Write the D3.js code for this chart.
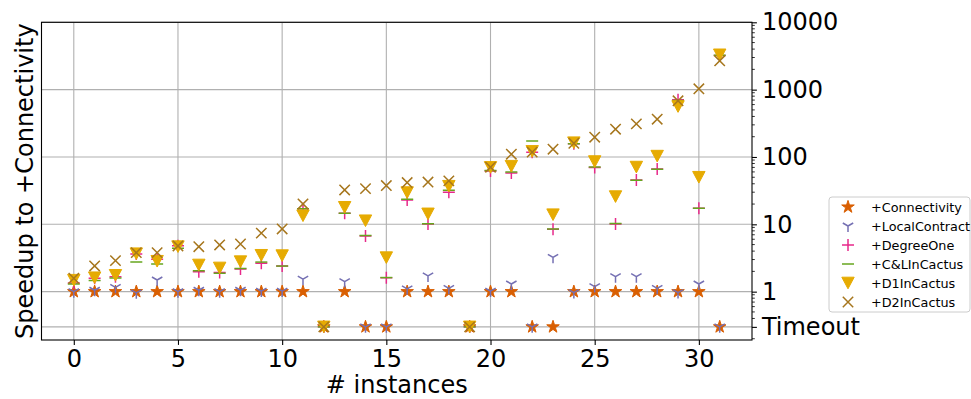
<!DOCTYPE html>
<html>
<head>
<meta charset="utf-8">
<script src="https://cdn.jsdelivr.net/npm/d3@7/dist/d3.min.js"></script>
<style>
  body { margin: 0; background: #fff; }
  svg { display: block; }
  text { font-family: "DejaVu Sans", sans-serif; fill: #000; }
</style>
</head>
<body>
<svg id="chart" width="971" height="399"></svg>
<script>
// Value used to place runs that timed out
const T = 0.3;

const connectivity   = [1,1,1,1,1,1,1,1,1,1,1,1,T,1,T,T,1,1,1,T,1,1,T,T,1,1,1,1,1,1,1,T];
const localContract  = [1.0,1.05,1.16,0.96,1.49,1.0,1.05,1.0,1.05,1.02,1.02,1.53,T,1.41,T,T,1.1,1.71,1.12,T,1.02,1.3,T,3.24,0.97,1.19,1.67,1.67,1.12,0.97,1.3,T];
const degreeOne      = [1.35,1.58,1.67,3.63,3.03,4.8,1.98,1.92,2.17,2.64,2.41,17,T,14.6,6.7,1.61,23,10.1,30,T,62,58,118,8.45,157,70,10.1,45.7,66.5,705,17.3,3200];
const cLInCactus     = [1.3,1.46,1.6,2.76,2.58,4.4,2.05,1.88,2.2,2.75,2.4,17,T,14.6,6.8,1.62,23.5,10.2,32,T,63,60,173,8.5,157,71,10.3,45,66,690,17.3,3250];
const d1InCactus     = [1.48,1.61,1.75,3.66,2.83,4.66,2.49,2.25,2.79,3.47,3.43,13.4,T,17.9,11.3,3.2,29.6,14.3,36.8,T,70,73,121,13.9,163,85.5,25.8,70.8,103,561,50,3290];
const d2InCactus     = [1.58,2.41,2.89,3.8,3.8,4.78,4.66,4.94,5.1,7.4,8.55,20.1,T,32.4,33.9,37.6,41.7,42.4,44.2,T,70.5,110,118,130.6,160,197,259,310,364,682,1028,2680];

const seriesNames  = ["+Connectivity","+LocalContract","+DegreeOne","+C&LInCactus","+D1InCactus","+D2InCactus"];
const seriesValues = [connectivity, localContract, degreeOne, cLInCactus, d1InCactus, d2InCactus];
const seriesColors = ["#d95f02","#7570b3","#e7298a","#66a61e","#e6ab02","#a6761d"];
const seriesMarkers = ["star","tri_down","plus","hline","triangle_down","x"];

const xTickValues = [0,5,10,15,20,25,30];
const yTickValues = [T,1,10,100,1000,10000];
const yTickLabels = ["Timeout","1","10","100","1000","10000"];

const svg = d3.select("#chart");
const plot = { left: 41.5, right: 752, top: 22.3, bottom: 340 };

const x = d3.scaleLinear().domain([-1.55, 32.55]).range([plot.left, plot.right]);
const y = d3.scaleLog().domain([0.1915, 10000]).range([plot.bottom, plot.top]);

// Marker path generators (centred on 0,0)
function markerPath(kind) {
  const p = d3.path();
  if (kind === "star") {
    const R = 6.6, r = R * 0.382;
    for (let k = 0; k < 10; k++) {
      const a = -Math.PI / 2 + k * Math.PI / 5;
      const rad = k % 2 === 0 ? R : r;
      const px = Math.cos(a) * rad, py = Math.sin(a) * rad;
      if (k === 0) p.moveTo(px, py); else p.lineTo(px, py);
    }
    p.closePath();
  } else if (kind === "tri_down") {
    const R = 6;
    p.moveTo(0, 0); p.lineTo(0, R);
    p.moveTo(0, 0); p.lineTo(-0.866 * R, -0.5 * R);
    p.moveTo(0, 0); p.lineTo(0.866 * R, -0.5 * R);
  } else if (kind === "plus") {
    const R = 6;
    p.moveTo(-R, 0); p.lineTo(R, 0);
    p.moveTo(0, -R); p.lineTo(0, R);
  } else if (kind === "hline") {
    const R = 6;
    p.moveTo(-R, 0); p.lineTo(R, 0);
  } else if (kind === "triangle_down") {
    const w = 6.2, h = 5.8;
    p.moveTo(0, h); p.lineTo(-w, -h); p.lineTo(w, -h); p.closePath();
  } else if (kind === "x") {
    const R = 5.2;
    p.moveTo(-R, -R); p.lineTo(R, R);
    p.moveTo(-R, R); p.lineTo(R, -R);
  }
  return p.toString();
}
function markerStyle(sel, kind, color) {
  const filled = kind === "star" || kind === "triangle_down";
  sel.attr("d", markerPath(kind))
     .attr("fill", filled ? color : "none")
     .attr("stroke", color)
     .attr("stroke-width", filled ? 1 : 1.5)
     .attr("stroke-linejoin", "miter");
}

// Grid
const grid = svg.append("g");
grid.selectAll("line.vx").data(xTickValues).join("line")
  .attr("x1", d => x(d)).attr("x2", d => x(d))
  .attr("y1", plot.top).attr("y2", plot.bottom)
  .attr("stroke", "#b0b0b0").attr("stroke-width", 1.1);
grid.selectAll("line.hy").data(yTickValues).join("line")
  .attr("x1", plot.left).attr("x2", plot.right)
  .attr("y1", d => y(d)).attr("y2", d => y(d))
  .attr("stroke", "#b0b0b0").attr("stroke-width", 1.1);

// Markers
const clipId = "plotclip";
svg.append("clipPath").attr("id", clipId).append("rect")
  .attr("x", plot.left).attr("y", plot.top)
  .attr("width", plot.right - plot.left).attr("height", plot.bottom - plot.top);
const marks = svg.append("g").attr("clip-path", `url(#${clipId})`);
seriesValues.forEach((vals, s) => {
  marks.append("g").selectAll("path").data(vals).join("path")
    .attr("transform", (d, i) => `translate(${x(i)},${y(d)})`)
    .call(markerStyle, seriesMarkers[s], seriesColors[s]);
});

// Frame
svg.append("rect")
  .attr("x", plot.left).attr("y", plot.top)
  .attr("width", plot.right - plot.left).attr("height", plot.bottom - plot.top)
  .attr("fill", "none").attr("stroke", "#000").attr("stroke-width", 1.1);

// Bottom axis
const xAxis = d3.axisBottom(x).tickValues(xTickValues).tickSize(4.9).tickPadding(5).tickFormat(d3.format("d"));
const gx = svg.append("g").attr("transform", `translate(0,${plot.bottom})`).call(xAxis);
gx.select(".domain").remove();
gx.selectAll(".tick line").attr("stroke", "#000").attr("stroke-width", 1.1);
gx.selectAll(".tick text").attr("font-size", 24).attr("font-family", "DejaVu Sans").attr("fill", "#000");

// Right axis with minor ticks
const [ymin, ymax] = y.domain();
const minorVals = [];
for (let e = -1; e <= 3; e++) for (let m = 2; m <= 9; m++) {
  const v = m * Math.pow(10, e);
  if (v >= ymin && v <= ymax && Math.abs(v - T) > 1e-9) minorVals.push(v);
}
const gy = svg.append("g").attr("transform", `translate(${plot.right},0)`);
gy.selectAll("line.minor").data(minorVals).join("line")
  .attr("x1", 0).attr("x2", 2.8).attr("y1", d => y(d)).attr("y2", d => y(d))
  .attr("stroke", "#000").attr("stroke-width", 0.8);
gy.call(d3.axisRight(y).tickValues(yTickValues).tickSize(4.9).tickPadding(5)
  .tickFormat((d, i) => yTickLabels[i]));
gy.select(".domain").remove();
gy.selectAll(".tick line").attr("stroke", "#000").attr("stroke-width", 1.1);
gy.selectAll(".tick text").attr("font-size", 24).attr("font-family", "DejaVu Sans").attr("fill", "#000");

// Axis titles
svg.append("text").attr("x", (plot.left + plot.right) / 2).attr("y", 393)
  .attr("text-anchor", "middle").attr("font-size", 24).text("# instances");
svg.append("text").attr("transform", `translate(33,${(plot.top + plot.bottom) / 2}) rotate(-90)`)
  .attr("text-anchor", "middle").attr("font-size", 24).text("Speedup to +Connectivity");

// Legend
const lg = svg.append("g").attr("transform", "translate(829,197)");
lg.append("rect").attr("x", 0).attr("y", 0).attr("width", 141).attr("height", 115)
  .attr("rx", 3).attr("fill", "#fff").attr("fill-opacity", 0.8)
  .attr("stroke", "#cccccc").attr("stroke-width", 1);
seriesNames.forEach((name, s) => {
  const row = lg.append("g").attr("transform", `translate(0,${10 + s * 19})`);
  row.append("path").attr("transform", "translate(19,0)")
    .call(markerStyle, seriesMarkers[s], seriesColors[s]);
  row.append("text").attr("x", 42).attr("y", 0).attr("dy", "0.36em")
    .attr("font-size", 12.8).text(name);
});
</script>
</body>
</html>
